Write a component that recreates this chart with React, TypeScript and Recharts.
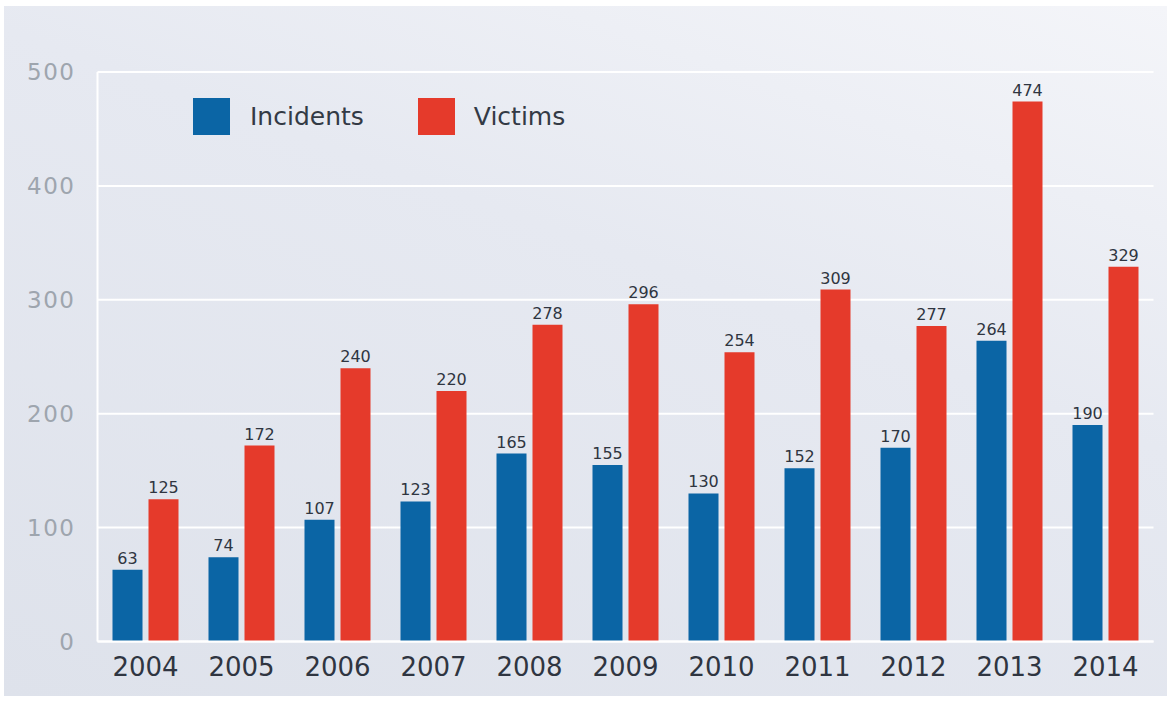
import React from "react";
import { BarChart, Bar, XAxis, YAxis, CartesianGrid, LabelList, Legend } from "recharts";

const years = ["2004", "2005", "2006", "2007", "2008", "2009", "2010", "2011", "2012", "2013", "2014"];
const incidents = [63, 74, 107, 123, 165, 155, 130, 152, 170, 264, 190];
const victims = [125, 172, 240, 220, 278, 296, 254, 309, 277, 474, 329];
const yTicks = [0, 100, 200, 300, 400, 500];

const BLUE = "#0b65a5";
const RED = "#e53a2b";
const FONT = "'DejaVu Sans', sans-serif";

const data = years.map((y, i) => ({ year: y, Incidents: incidents[i], Victims: victims[i] }));

const renderLegend = () => (
  <div style={{ display: "flex", alignItems: "center", fontFamily: FONT }}>
    <div style={{ width: 37, height: 37, background: BLUE }} />
    <span style={{ marginLeft: 20, fontSize: 25, color: "#333a45" }}>Incidents</span>
    <div style={{ width: 37, height: 37, background: RED, marginLeft: 54 }} />
    <span style={{ marginLeft: 19, fontSize: 25, color: "#333a45" }}>Victims</span>
  </div>
);

export default function App() {
  return (
    <div style={{ position: "absolute", left: 0, top: 0, width: 1171, height: 701, background: "#ffffff" }}>
      <div
        style={{
          position: "absolute",
          left: 4,
          top: 6,
          width: 1163,
          height: 690,
          background: "linear-gradient(200deg, #f4f5f9 0%, #e6e9f1 40%, #dee2eb 100%)",
        }}
      />
      <div style={{ position: "absolute", left: 0, top: 0 }}>
        <BarChart
          width={1171}
          height={701}
          data={data}
          margin={{ top: 72, right: 17.5, left: 7.5, bottom: 19.5 }}
          barSize={30}
          barGap={6}
          barCategoryGap={15}
        >
          <CartesianGrid vertical={false} stroke="#ffffff" strokeWidth={2} />
          <XAxis
            dataKey="year"
            axisLine={{ stroke: "#ffffff", strokeWidth: 2 }}
            tickLine={false}
            height={40}
            tick={{ fontSize: 26, fill: "#2f3541", fontFamily: FONT }}
            tickMargin={10}
          />
          <YAxis
            domain={[0, 500]}
            ticks={yTicks}
            width={90}
            axisLine={{ stroke: "#ffffff", strokeWidth: 2 }}
            tickLine={false}
            tickMargin={16}
            tick={{ fontSize: 23, fill: "#9ea5ae", fontFamily: FONT, letterSpacing: 1.5 }}
          />
          <Legend
            content={renderLegend}
            layout="horizontal"
            align="center"
            verticalAlign="middle"
            wrapperStyle={{ top: 98, left: 193, width: "auto" }}
          />
          <Bar dataKey="Incidents" fill={BLUE} isAnimationActive={false}>
            <LabelList dataKey="Incidents" position="top" offset={6} style={{ fontSize: 16, fill: "#2f3541", fontFamily: FONT }} />
          </Bar>
          <Bar dataKey="Victims" fill={RED} isAnimationActive={false}>
            <LabelList dataKey="Victims" position="top" offset={6} style={{ fontSize: 16, fill: "#2f3541", fontFamily: FONT }} />
          </Bar>
        </BarChart>
      </div>
    </div>
  );
}
